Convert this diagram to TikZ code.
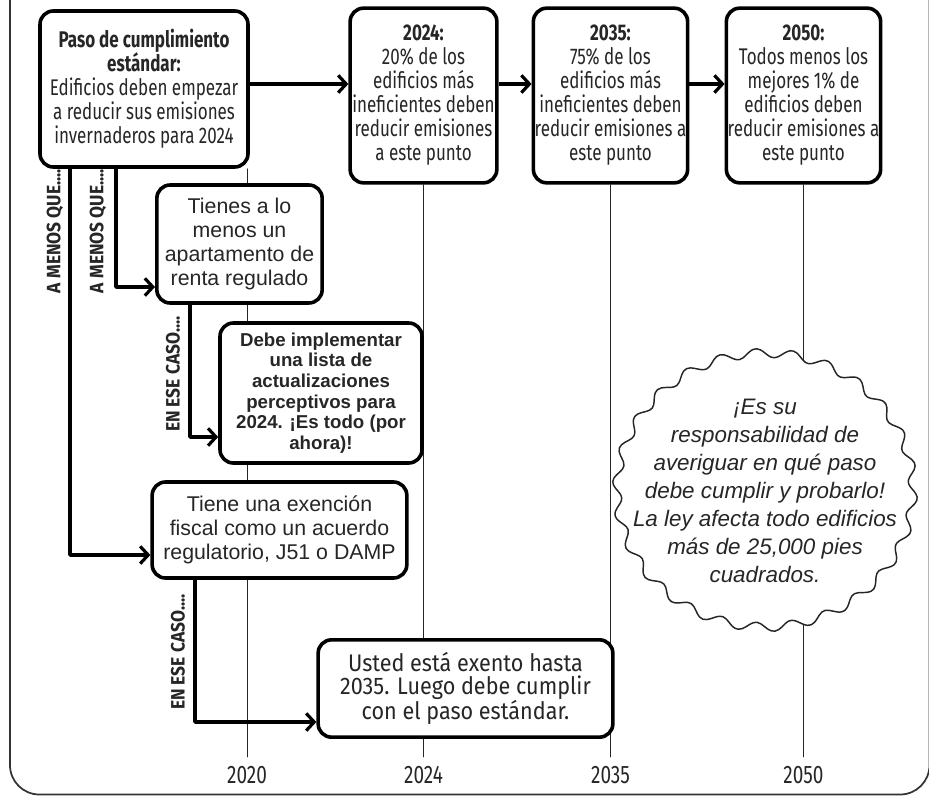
\documentclass[tikz,border=0pt]{standalone}
\usepackage{fontspec}
\setmainfont{Liberation Sans}
\newfontfamily\condfont[FakeStretch=0.75]{Fira Sans}
\newfontfamily\widecond[FakeStretch=0.9]{Fira Sans}
\usetikzlibrary{arrows.meta}

\begin{document}
\begin{tikzpicture}[x=0.75pt, y=-0.75pt, line join=round, line cap=round]
	\tikzset{
		stepbox/.style={draw, line width=2.7pt, rounded corners=10pt, fill=white,
			align=center, inner sep=1pt, text=black!85},
		cond/.style={font=\condfont\fontsize{17}{18}\selectfont},
		plain/.style={font=\fontsize{16}{18}\selectfont},
		flow/.style={line width=2.7pt, line cap=butt,
			-{Straight Barb[length=6pt,width=13pt,line width=2.4pt]}},
		yearline/.style={line width=0.7pt, black!85},
		cue/.style={rotate=90, text=black!85,
			font=\widecond\bfseries\fontsize{14.5}{14.5}\selectfont},
		year/.style={text=black!85, font=\condfont\fontsize{19}{19}\selectfont},
	}
	\useasboundingbox (0,0) rectangle (929,796);
	
	% frame
	\draw[line width=1.3pt, black!80, rounded corners=22pt] (10,-60) rectangle (929.5,794.5);
	
	% timeline boxes
	\node[stepbox, cond, minimum width=156pt, minimum height=117pt] (std) at (144,89)
	{\textbf{Paso de cumplimiento}\\ \textbf{estándar:}\\ Edificios deben empezar\\ a reducir sus emisiones\\ invernaderos para 2024};
	\node[stepbox, cond, minimum width=110pt, minimum height=131pt] (y2024) at (423.5,95.5)
	{\textbf{2024:}\\ 20\% de los\\ edificios más\\ ineficientes deben\\ reducir emisiones\\ a este punto};
	\node[stepbox, cond, minimum width=110pt, minimum height=131pt] (y2035) at (610.5,95.5)
	{\textbf{2035:}\\ 75\% de los\\ edificios más\\ ineficientes deben\\ reducir emisiones a\\ este punto};
	\node[stepbox, cond, minimum width=115pt, minimum height=131pt] (y2050) at (803.5,95.5)
	{\textbf{2050:}\\ Todos menos los\\ mejores 1\% de\\ edificios deben\\ reducir emisiones a\\ este punto};
	
	% year labels
	\node[year] (t2020) at (247,775) {2020};
	\node[year] (t2024) at (423.5,775) {2024};
	\node[year] (t2035) at (610.5,775) {2035};
	\node[year] (t2050) at (803.5,775) {2050};
	
	% vertical year lines (behind the boxes below)
	\coordinate (e2020) at (247,757);
	\draw[yearline] (std.south east -| e2020) -- (e2020);
	\draw[yearline] (y2024.south) -- (y2024.south |- e2020);
	\draw[yearline] (y2050.south) -- (y2050.south |- e2020);
	
	% note
	\draw[line width=1.1pt, black!85, fill=white] plot[domain=0:360, samples=260, smooth]
	({765+(148+4.5*sin(26*\x))*cos(\x)}, {490+(137+4.5*sin(26*\x))*sin(\x)}) -- cycle;
	\draw[yearline] (y2035.south) -- (y2035.south |- e2020);
	\node[text=black!85, align=center, font=\itshape\fontsize{16.8}{21}\selectfont] (note) at (765,491)
	{¡Es su\\ responsabilidad de\\ averiguar en qué paso\\ debe cumplir y probarlo!\\ La ley afecta todo edificios\\ más de 25,000 pies\\ cuadrados.};
	
	% exception boxes
	\node[stepbox, plain, minimum width=124pt, minimum height=88.5pt] (rent) at (239.5,244)
	{Tienes a lo\\ menos un\\ apartamento de\\ renta regulado};
	\node[stepbox, font=\bfseries\fontsize{14}{15.5}\selectfont, minimum width=151.5pt, minimum height=105pt] (list) at (321,393)
	{Debe implementar\\ una lista de\\ actualizaciones\\ perceptivos para\\ 2024. ¡Es todo (por\\ ahora)!};
	\node[stepbox, plain, minimum width=191pt, minimum height=72pt] (tax) at (279.5,530)
	{Tiene una exención\\ fiscal como un acuerdo\\ regulatorio, J51 o DAMP};
	\node[stepbox, font=\widecond\fontsize{18}{17}\selectfont, minimum width=221pt, minimum height=73pt] (exempt) at (465.5,688.5)
	{Usted está exento hasta\\ 2035. Luego debe cumplir\\ con el paso estándar.};
	
	% arrows along the timeline
	\coordinate (row) at (0,84);
	\draw[flow] (row -| std.east) -- (row -| y2024.west);
	\draw[flow] (row -| y2024.east) -- (row -| y2035.west);
	\draw[flow] (row -| y2035.east) -- (row -| y2050.west);
	
	% branches
	\coordinate (jtax) at (70,555);
	\coordinate (jrent) at (116,287);
	\coordinate (jlist) at (190,437);
	\coordinate (jexempt) at (195,722);
	\draw[flow] (std.south -| jtax) |- (tax.west |- jtax);
	\draw[flow] (std.south -| jrent) |- (rent.west |- jrent);
	\draw[flow] (rent.south -| jlist) |- (list.west |- jlist);
	\draw[flow] (tax.south -| jexempt) |- (exempt.west |- jexempt);
	
	% branch labels
	\node[cue] (ctax) at (55,231) {A MENOS QUE....};
	\node[cue] (crent) at (98,231) {A MENOS QUE....};
	\node[cue] (clist) at (173,374) {EN ESE CASO....};
	\node[cue] (cexempt) at (178,652) {EN ESE CASO....};
\end{tikzpicture}
\end{document}
